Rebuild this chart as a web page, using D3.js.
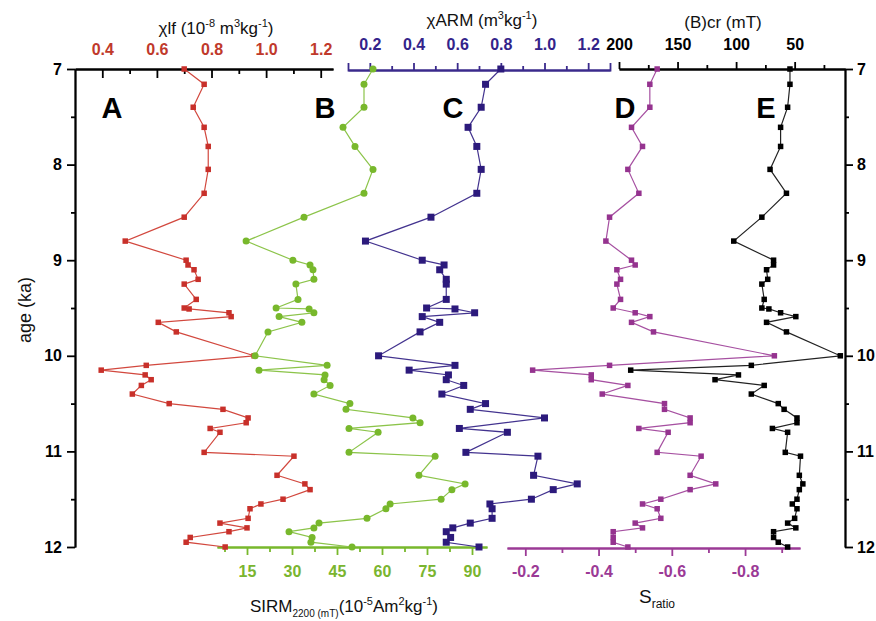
<!DOCTYPE html>
<html>
<head>
<meta charset="utf-8">
<script src="https://cdn.jsdelivr.net/npm/d3@7"></script>
<style>
  body { margin: 0; background: #fff; }
  svg { font-family: Arial, "Liberation Sans", sans-serif; }
</style>
</head>
<body>
<div id="chart"></div>
<script>
// sample ages (ka) shared by all five records
const ages = [7.00, 7.16, 7.40, 7.61, 7.81, 8.05, 8.30, 8.55, 8.80, 9.00,
  9.05, 9.10, 9.20, 9.25, 9.41, 9.50, 9.51, 9.55, 9.59, 9.65,
  9.75, 10.00, 10.10, 10.15, 10.20, 10.25, 10.31, 10.40, 10.50, 10.56,
  10.65, 10.70, 10.76, 10.80, 11.01, 11.05, 11.25, 11.34, 11.40, 11.50,
  11.55, 11.60, 11.70, 11.75, 11.80, 11.84, 11.90, 11.95, 12.00];

// A: chi lf
const chiLf = [0.700, 0.773, 0.733, 0.773, 0.788, 0.788, 0.773, 0.700, 0.484, 0.707,
  0.714, 0.736, 0.751, 0.700, 0.744, 0.700, 0.718, 0.864, 0.872, 0.605,
  0.671, 0.956, 0.561, 0.396, 0.557, 0.579, 0.543, 0.510, 0.645, 0.842,
  0.934, 0.927, 0.795, 0.831, 0.773, 1.102, 1.040, 1.142, 1.161, 1.062,
  0.981, 0.941, 0.934, 0.831, 0.930, 0.864, 0.722, 0.707, 0.850];

// B: SIRM
const sirm = [57.0, 54.0, 54.0, 47.0, 51.0, 57.0, 54.0, 34.0, 14.7, 30.3,
  36.0, 37.0, 37.3, 31.3, 32.0, 24.7, 35.7, 37.3, 25.7, 33.3,
  22.0, 17.7, 41.7, 19.0, 41.0, 40.7, 42.7, 37.3, 49.3, 48.0,
  70.3, 72.7, 49.0, 58.7, 49.0, 77.7, 72.3, 87.7, 83.3, 79.7,
  62.7, 61.3, 55.0, 39.0, 37.3, 29.0, 36.7, 36.3, 50.0];

// C: chi ARM
const chiArm = [0.80, 0.73, 0.71, 0.65, 0.69, 0.71, 0.69, 0.48, 0.18, 0.44,
  0.54, 0.52, 0.55, 0.55, 0.55, 0.46, 0.59, 0.68, 0.44, 0.52,
  0.43, 0.24, 0.59, 0.38, 0.56, 0.55, 0.63, 0.53, 0.73, 0.66,
  1.00, null, 0.61, 0.83, 0.64, 0.97, 0.95, 1.15, 1.04, 0.94,
  0.75, 0.76, 0.76, 0.66, 0.58, 0.55, 0.57, 0.55, 0.70];

// D: S ratio
const sRatio = [-0.56, -0.54, -0.54, -0.49, -0.52, -0.48, -0.51, -0.43, -0.42, -0.49,
  -0.50, -0.45, -0.46, -0.45, -0.46, -0.44, null, -0.50, -0.54, -0.49,
  -0.55, -0.88, -0.43, -0.22, -0.38, -0.38, -0.48, -0.41, -0.58, -0.58,
  -0.65, -0.65, -0.51, -0.59, -0.56, -0.68, -0.65, -0.72, -0.65, -0.57,
  -0.52, -0.56, -0.57, -0.50, -0.52, -0.44, -0.44, -0.44, -0.48];

// E: (B)cr
const bcr = [54, 54, 56, 62, 62, 71, 57, 78, 102, 68,
  68, 74, 73, 78, 76, 78, 72, 62, 49, 74,
  57, 11, 87, 190, 98, 118, 76, 87, 64, 59,
  48, 48, 69, 56, 58, 45, 46, 43, 46, 48,
  52, 48, 50, 56, 49, 68, 68, 64, 56];

// tick values
const ageTicks = [7, 8, 9, 10, 11, 12];
const ageMinor = [7.5, 8.5, 9.5, 10.5, 11.5];
const lfTicks = [0.4, 0.6, 0.8, 1.0, 1.2];
const lfMinor = [0.5, 0.7, 0.9, 1.1];
const armTicks = [0.2, 0.4, 0.6, 0.8, 1.0, 1.2];
const armMinor = [0.3, 0.5, 0.7, 0.9, 1.1];
const bcrTicks = [200, 150, 100, 50];
const bcrMinor = [175, 125, 75, 25];
const sirmTicks = [15, 30, 45, 60, 75, 90];
const sirmMinor = [7.5, 22.5, 37.5, 52.5, 67.5, 82.5];
const srTicks = [-0.2, -0.4, -0.6, -0.8];
const srMinor = [-0.3, -0.5, -0.7, -0.9];
const panelLetters = ["A", "B", "C", "D", "E"];

const W = 876, H = 621;
const svg = d3.select("#chart").append("svg")
  .attr("width", W).attr("height", H);

// scales
const y = d3.scaleLinear().domain([7, 12]).range([69, 547]);
const xA = d3.scaleLinear().domain([0.3, 1.245]).range([75, 333]);
const xB = d3.scaleLinear().domain([5, 95]).range([217, 487]);
const xC = d3.scaleLinear().domain([0.1, 1.3]).range([348, 610]);
const xD = d3.scaleLinear().domain([-0.15, -0.95]).range([507, 800]);
const xE = d3.scaleLinear().domain([200, 7]).range([619, 845]);

const red = "#c8302a", green = "#78b82c", indigo = "#2c1a7c", magenta = "#95338f";

// axis helper: minor ticks first, then major with labels
function addAxis(make, scale, pos, major, minor, fmt, o) {
  const gm = svg.append("g").attr("transform", pos)
    .call(make(scale).tickValues(minor).tickFormat("").tickSizeInner(o.minor).tickSizeOuter(0));
  const g = svg.append("g").attr("transform", pos)
    .call(make(scale).tickValues(major).tickFormat(fmt)
      .tickSizeInner(o.major).tickSizeOuter(o.outer || 0).tickPadding(o.pad));
  [gm, g].forEach(s => {
    s.attr("font-family", null).attr("font-size", null);
    s.selectAll("path, line").attr("stroke", o.color).attr("stroke-width", 1.8);
  });
  gm.selectAll("text").remove();
  g.selectAll("text").attr("fill", o.text)
    .style("font-size", "16px").style("font-weight", "bold");
  return g;
}

addAxis(d3.axisLeft, y, "translate(75,0)", ageTicks, ageMinor, d => d,
  { major: 8, minor: 4, pad: 5, color: "#000", text: "#000" });
addAxis(d3.axisRight, y, "translate(845,0)", ageTicks, ageMinor, d => d,
  { major: 8, minor: 4, pad: 4, color: "#000", text: "#000" });
addAxis(d3.axisTop, xA, "translate(0,69)", lfTicks, lfMinor, d => d.toFixed(1),
  { major: -9, minor: -5, pad: 14, color: "#000", text: "#c0392b" });
addAxis(d3.axisTop, xC, "translate(0,70)", armTicks, armMinor, d => d.toFixed(1),
  { major: 7, minor: 4, pad: 13, outer: 7, color: "#3a2a8c", text: "#33238a" });
addAxis(d3.axisTop, xE, "translate(0,69)", bcrTicks, bcrMinor, d => d,
  { major: 7, minor: 4, pad: 12, color: "#000", text: "#000" });
addAxis(d3.axisBottom, xB, "translate(0,547)", sirmTicks, sirmMinor, d => d,
  { major: 8, minor: 5, pad: 11, color: green, text: "#7ab530" });
addAxis(d3.axisBottom, xD, "translate(0,548)", srTicks, srMinor, d => d.toFixed(1),
  { major: 8, minor: 5, pad: 10, color: "#9b3a96", text: "#9b3a96" });

// titles with super/subscripts
function richText(x, yy, parts, size, anchor) {
  const t = svg.append("text").attr("x", x).attr("y", yy)
    .attr("text-anchor", anchor || "middle").style("font-size", size + "px").attr("fill", "#111");
  let shift = 0;
  parts.forEach(p => {
    const off = p[1] === "sup" ? -7 : p[1] === "sub" ? 5 : 0;
    t.append("tspan").attr("dy", off - shift)
      .style("font-size", p[1] ? (p[2] || 11) + "px" : size + "px")
      .text(p[0]);
    shift = off;
  });
  return t;
}

richText(216, 34, [["\u03c7lf (10"], ["-8", "sup"], [" m"], ["3", "sup"], ["kg"], ["-1", "sup"], [")"]], 17);
richText(482, 26, [["\u03c7ARM (m"], ["3", "sup"], ["kg"], ["-1", "sup"], [")"]], 17);
richText(723, 28, [["(B)cr (mT)"]], 17);
richText(250, 612, [["SIRM"], ["2200 (mT)", "sub", 10], ["(10"], ["-5", "sup"], ["Am"], ["2", "sup"], ["kg"], ["-1", "sup"], [")"]], 17, "start");
richText(639, 603, [["S"], ["ratio", "sub", 12]], 19, "start");

svg.append("text")
  .attr("transform", "translate(31,310) rotate(-90)")
  .attr("text-anchor", "middle").style("font-size", "18px").attr("fill", "#111")
  .text("age (ka)");

// panel letters
const letterX = [112, 325, 453, 625, 766];
svg.selectAll(".letter").data(panelLetters).enter().append("text")
  .attr("class", "letter")
  .attr("x", (d, i) => letterX[i]).attr("y", 118)
  .attr("text-anchor", "middle")
  .style("font-size", "29px").style("font-weight", "bold").attr("fill", "#000")
  .text(d => d);

// series
function drawSeries(values, x, lineColor, fill, shape, size) {
  const pts = ages.map((a, i) => ({ age: a, v: values[i] })).filter(d => d.v != null);
  svg.append("path").datum(pts)
    .attr("fill", "none").attr("stroke", lineColor).attr("stroke-width", 1.2)
    .attr("d", d3.line().x(d => x(d.v)).y(d => y(d.age)));
  const g = svg.append("g");
  if (shape === "circle") {
    g.selectAll("circle").data(pts).enter().append("circle")
      .attr("cx", d => x(d.v)).attr("cy", d => y(d.age)).attr("r", size / 2)
      .attr("fill", fill);
  } else {
    g.selectAll("rect").data(pts).enter().append("rect")
      .attr("x", d => x(d.v) - size / 2).attr("y", d => y(d.age) - size / 2)
      .attr("width", size).attr("height", size).attr("fill", fill);
  }
}

drawSeries(chiLf, xA, "#d2483e", red, "square", 5.5);
drawSeries(sirm, xB, "#8cc44a", green, "circle", 7);
drawSeries(chiArm, xC, "#43338f", indigo, "square", 7);
drawSeries(sRatio, xD, "#a650a1", magenta, "square", 5.5);
drawSeries(bcr, xE, "#222", "#000", "square", 5.5);
</script>
</body>
</html>
